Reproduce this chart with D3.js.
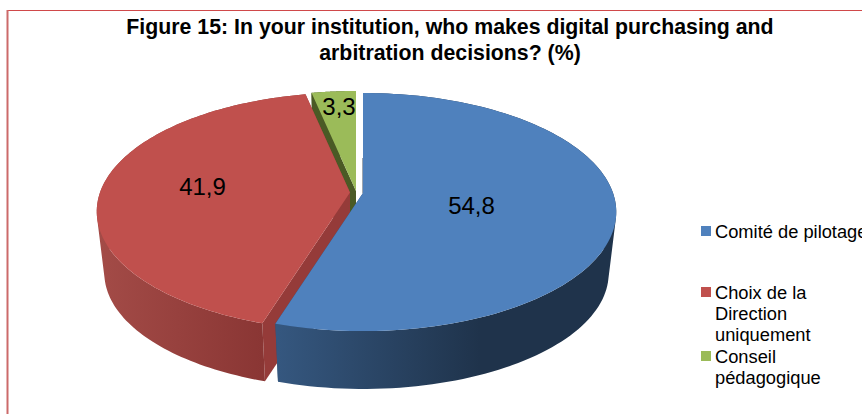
<!DOCTYPE html>
<html><head><meta charset="utf-8">
<style>html,body{margin:0;padding:0;background:#fff;overflow:hidden}svg{display:block}text{font-family:"Liberation Sans",Arial,sans-serif;fill:#000}</style>
<script src="https://cdn.jsdelivr.net/npm/d3@7"></script></head><body>
<script>
const categories = ["Comité de pilotage", "Choix de la Direction uniquement", "Conseil pédagogique"];
const values = [54.8, 41.9, 3.3];
const valueLabels = ["54,8", "41,9", "3,3"];
const legendLines = [["Comité de pilotage"], ["Choix de la", "Direction", "uniquement"], ["Conseil", "pédagogique"]];
const titleLines = ["Figure 15: In your institution, who makes digital purchasing and", "arbitration decisions? (%)"];

const W = 862, H = 414;
const topColors = ["#4f81bd", "#c0504d", "#9bbb59"];
const cutColors = ["#2c4a6e", "#953b39", "#4a5a25"];
const wallStops = [["#35577f", "#1f334b"], ["#a34b47", "#8a3634"], ["#4a5a25", "#4a5a25"]];
const wallRange = [[278, 480], [100, 262], [310, 356]];
// exploded slice apexes and label offsets (layout)
const apex = [[363, 193], [350, 192.5], [356, 191]];
const labelOffset = [[108.5, 21], [-147.5, 2.5], [-17, -76]];
const A = 250, B = 116, K = 0.16, DEPTH = 62, LOWER = 0.97;

const svg = d3.select("body").append("svg").attr("width", W).attr("height", H);
const defs = svg.append("defs");
const pie = d3.pie().sort(null).value(d => d)(values);

function project(i, a, r, lower) {
  const u = Math.sin(a) * r, v = Math.cos(a) * r, w = 1 + K * v, s = lower ? LOWER : 1;
  return [apex[i][0] + s * A * u / w, apex[i][1] + (lower ? DEPTH : 0) - s * B * v / w];
}
const line = d3.line();
const arcPts = (i, d, lower) => d3.range(0, 121).map(n => project(i, d.startAngle + (d.endAngle - d.startAngle) * n / 120, 1, lower));

pie.forEach((d, i) => {
  const g = defs.append("linearGradient").attr("id", "wall" + i).attr("gradientUnits", "userSpaceOnUse")
    .attr("x1", wallRange[i][0]).attr("x2", wallRange[i][1]).attr("y1", 0).attr("y2", 0);
  g.append("stop").attr("offset", 0).attr("stop-color", wallStops[i][0]);
  g.append("stop").attr("offset", 1).attr("stop-color", wallStops[i][1]);
});

function drawSlice(i) {
  const d = pie[i];
  const up = arcPts(i, d, false), lo = arcPts(i, d, true);
  const c0 = project(i, 0, 0, false), c1 = project(i, 0, 0, true);
  // cut faces
  [0, up.length - 1].forEach(k => {
    svg.append("path").attr("d", line([c0, up[k], lo[k], c1]) + "Z").attr("fill", cutColors[i]);
  });
  // thin sliver of the nearly edge-on starting face
  if (i === 0) svg.append("path").attr("d", line([lo[0], c0])).attr("stroke", "#3a4a5e").attr("stroke-width", 1).attr("fill", "none");
  // outer wall: one path made of same-winding quads, so the union has no seams
  const quads = d3.range(up.length - 1).map(n => {
    const q = [up[n], up[n + 1], lo[n + 1], lo[n]];
    return line(d3.polygonArea(q) < 0 ? q.reverse() : q) + "Z";
  }).join("");
  svg.append("path").attr("d", quads).attr("fill", `url(#wall${i})`);
  // top
  svg.append("path").attr("d", line([c0].concat(up)) + "Z").attr("fill", topColors[i]);
}
[2, 1, 0].forEach(drawSlice);

// frame
svg.append("line").attr("x1", 7).attr("x2", W).attr("y1", 10.5).attr("y2", 10.5).attr("stroke", "#d0494a").attr("stroke-width", 1);
svg.append("line").attr("x1", 7.5).attr("x2", 7.5).attr("y1", 10).attr("y2", H).attr("stroke", "#cc6a6a").attr("stroke-width", 2);

// title
titleLines.forEach((t, i) => svg.append("text").attr("x", 450).attr("y", 34 + i * 25.5)
  .attr("text-anchor", "middle").attr("font-weight", "bold").attr("font-size", 21.3).text(t));

// value labels
valueLabels.forEach((t, i) => svg.append("text")
  .attr("x", apex[i][0] + labelOffset[i][0]).attr("y", apex[i][1] + labelOffset[i][1])
  .attr("text-anchor", "middle").attr("font-size", 24).text(t));

// legend
const legendY = [238, 299, 363];
const lineH = 21;
legendLines.forEach((ls, i) => {
  svg.append("rect").attr("x", 701).attr("y", legendY[i] - 12).attr("width", 10).attr("height", 10).attr("fill", topColors[i]);
  ls.forEach((t, j) => svg.append("text").attr("x", 715).attr("y", legendY[i] + j * lineH).attr("font-size", 18.3).text(t));
});
</script></body></html>
